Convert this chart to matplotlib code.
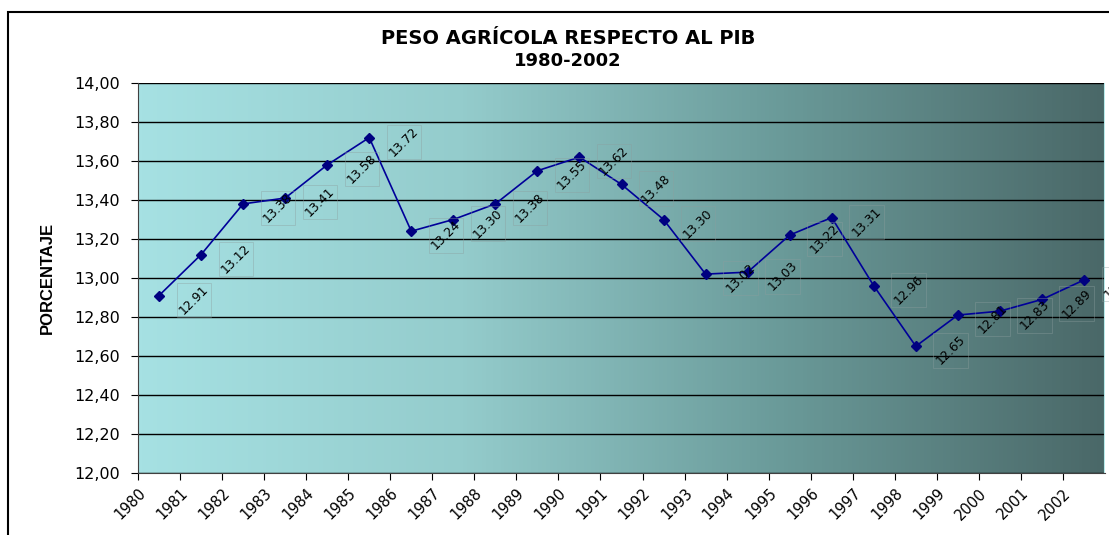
import numpy as np
import matplotlib
matplotlib.use("Agg")
import matplotlib.pyplot as plt
from matplotlib.colors import LinearSegmentedColormap
from matplotlib.patches import Rectangle

plt.rcParams['font.family'] = ['DejaVu Sans']

# data
years = [str(y) for y in range(1980, 2003)]
peso = [12.91, 13.12, 13.38, 13.41, 13.58, 13.72, 13.24, 13.30, 13.38, 13.55,
        13.62, 13.48, 13.30, 13.02, 13.03, 13.22, 13.31, 12.96, 12.65, 12.81,
        12.83, 12.89, 12.99]

W, H = 1109, 535
fig = plt.figure(figsize=(W / 100, H / 100), dpi=100)
ax = fig.add_axes([138 / W, 62 / H, 967 / W, 390 / H])

# outer chart border (Excel chart area)
fig.patches.append(Rectangle((8 / W, -0.05), 1.2, 1 - 12 / H + 0.05,
                             transform=fig.transFigure, fill=False,
                             edgecolor='black', linewidth=1.5))

# gradient background of the plot area
cmap = LinearSegmentedColormap.from_list('fondo', ['#a6e1e3', '#94cccc', '#6a9a99', '#4a6868'])
grad = np.linspace(0, 1, 256).reshape(1, -1)
ax.imshow(grad, cmap=cmap, aspect='auto', extent=[0, 1, 0, 1],
          transform=ax.transAxes, zorder=0)

n = len(years)
x = np.arange(n) + 0.5
ax.plot(x, peso, color='#000099', linewidth=1.2, marker='D', markersize=5.5,
        markerfacecolor='#000080', markeredgecolor='#000080', zorder=3)

labels = []
for xi, v in zip(x, peso):
    t = ax.annotate('%.2f' % v, (xi, v), xytext=(25, -3), textcoords='offset points',
                    rotation=45, ha='center', va='center', fontsize=9,
                    color='black', zorder=4, annotation_clip=False)
    labels.append(t)

ax.set_xlim(0, n)
ax.set_ylim(12, 14)
yt = np.arange(12, 14.01, 0.2)
ax.set_yticks(yt)
ax.set_yticklabels([('%.2f' % t).replace('.', ',') for t in yt])
ax.yaxis.grid(True, color='black', linewidth=1.0)
for gl in ax.get_ygridlines():
    gl.set_zorder(1)

ax.set_xticks(np.arange(n))
ax.set_xticklabels(years, rotation=45, ha='right', va='top', fontsize=10.5,
                   rotation_mode='anchor')
ax.tick_params(axis='y', labelsize=11.5, length=5, direction='out', pad=8)
ax.tick_params(axis='x', length=5, direction='out', pad=4)

for s in ['top', 'right']:
    ax.spines[s].set_visible(False)
ax.spines['left'].set_color('#404040')
ax.spines['bottom'].set_color('#404040')
ax.axvline(n, color='#b8ecec', linewidth=1.5)

ax.set_ylabel('PORCENTAJE', fontsize=12, fontweight='bold', labelpad=14,
              family=['Liberation Sans Narrow', 'Liberation Sans'])

fig.text(568 / W, 1 - 38 / H, 'PESO AGRÍCOLA RESPECTO AL PIB', ha='center',
         va='center', fontsize=14, fontweight='bold')
fig.text(568 / W, 1 - 61 / H, '1980-2002', ha='center', va='center',
         fontsize=13, fontweight='bold')

# faint axis-aligned boxes around the data labels, as in the Excel chart
fig.canvas.draw()
for t in labels:
    bb = t.get_window_extent()
    fig.patches.append(Rectangle((bb.x0 / W, bb.y0 / H), bb.width / W, bb.height / H,
                                 transform=fig.transFigure, fill=False,
                                 edgecolor=(0.55, 0.62, 0.62, 0.45), linewidth=0.6,
                                 zorder=5))

fig.savefig('out.png', dpi=100)
